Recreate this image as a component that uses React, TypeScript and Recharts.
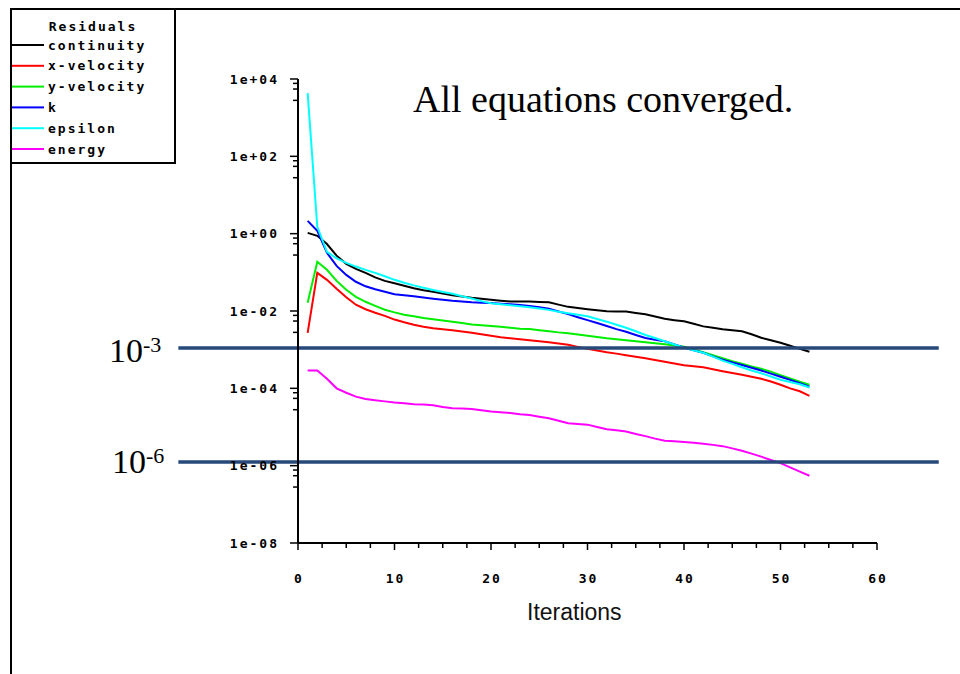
import { LineChart, Line, XAxis, YAxis, ReferenceLine } from "recharts";

const iterations = [
  1, 2, 3, 4, 5, 6, 7, 8, 9, 10, 11, 12, 13, 14, 15, 16, 17, 18, 19, 20, 21, 22, 23, 24, 25, 26,
  27, 28, 29, 30, 31, 32, 33, 34, 35, 36, 37, 38, 39, 40, 41, 42, 43, 44, 45, 46, 47, 48, 49, 50,
  51, 52, 53,
];

const continuity = [
  1.05, 0.88, 0.54, 0.27, 0.166, 0.123, 0.097, 0.074, 0.06, 0.052, 0.045, 0.0386, 0.0345, 0.0313,
  0.0283, 0.0255, 0.0236, 0.0219, 0.0206, 0.0195, 0.0185, 0.0176, 0.0176, 0.0176, 0.0172, 0.0168,
  0.0146, 0.0128, 0.0119, 0.0111, 0.0104, 0.0098, 0.0097, 0.0097, 0.0089, 0.0082, 0.0072, 0.0063,
  0.0058, 0.0054, 0.0047, 0.004, 0.0037, 0.00337, 0.0032, 0.003, 0.0025, 0.00203, 0.00175, 0.00151,
  0.00126, 0.00105, 0.00088,
];

const xVelocity = [
  0.00273, 0.097, 0.064, 0.0375, 0.0226, 0.0145, 0.0111, 0.009, 0.0075, 0.006, 0.0051, 0.0044,
  0.0039, 0.00357, 0.00335, 0.00317, 0.00295, 0.00273, 0.0025, 0.00229, 0.0021, 0.00197, 0.00185,
  0.00175, 0.00165, 0.00155, 0.00145, 0.00134, 0.00118, 0.00105, 0.00095, 0.00086, 0.00079, 0.00072,
  0.00066, 0.0006, 0.00054, 0.00049, 0.00044, 0.000395, 0.00037, 0.00035, 0.00031, 0.000277, 0.00025,
  0.000224, 0.0002, 0.000177, 0.00015, 0.000124, 0.0001, 0.000084, 0.000064,
];

const yVelocity = [
  0.0163, 0.187, 0.116, 0.06, 0.0353, 0.0233, 0.0173, 0.0136, 0.0108, 0.0092, 0.008, 0.0073, 0.0066,
  0.0061, 0.0057, 0.0053, 0.0049, 0.0045, 0.0043, 0.0041, 0.0039, 0.0037, 0.0035, 0.0034, 0.0032,
  0.003, 0.0028, 0.00265, 0.00246, 0.00229, 0.00213, 0.00197, 0.00186, 0.00175, 0.00165, 0.00155,
  0.00146, 0.00138, 0.00128, 0.00119, 0.00101, 0.00086, 0.00072, 0.0006, 0.0005, 0.00043, 0.00037,
  0.00032, 0.00027, 0.00022, 0.00018, 0.000148, 0.000124,
];

const kResidual = [
  2.14, 1.18, 0.32, 0.147, 0.086, 0.057, 0.0435, 0.0364, 0.0313, 0.027, 0.0255, 0.024, 0.0222,
  0.0207, 0.0195, 0.0184, 0.0176, 0.0168, 0.0164, 0.016, 0.0154, 0.0149, 0.0144, 0.0135, 0.0125,
  0.0114, 0.0097, 0.0083, 0.0069, 0.0058, 0.0049, 0.0041, 0.0034, 0.0029, 0.0024, 0.002, 0.0018,
  0.00165, 0.00137, 0.00114, 0.00097, 0.00083, 0.00067, 0.00055, 0.00047, 0.0004, 0.00034, 0.00029,
  0.00024, 0.0002, 0.000165, 0.000135, 0.00011,
];

const epsilon = [
  4300, 1.5, 0.34, 0.23, 0.176, 0.141, 0.116, 0.097, 0.079, 0.064, 0.054, 0.046, 0.04, 0.035, 0.031,
  0.028, 0.024, 0.021, 0.018, 0.0158, 0.0149, 0.014, 0.0132, 0.0125, 0.0116, 0.0107, 0.0096, 0.0087,
  0.008, 0.0073, 0.0062, 0.0053, 0.0044, 0.0037, 0.003, 0.0024, 0.002, 0.00165, 0.00136, 0.00112,
  0.00096, 0.00083, 0.00066, 0.00052, 0.00043, 0.00035, 0.00029, 0.000245, 0.000202, 0.000167,
  0.000146, 0.000128, 0.000105,
];

const energy = [
  2.9e-4, 2.9e-4, 1.77e-4, 1.0e-4, 7.7e-5, 6.1e-5, 5.3e-5, 4.9e-5, 4.6e-5, 4.3e-5, 4.1e-5, 3.9e-5,
  3.8e-5, 3.65e-5, 3.3e-5, 3.06e-5, 3.0e-5, 2.9e-5, 2.7e-5, 2.5e-5, 2.4e-5, 2.3e-5, 2.15e-5, 2.04e-5,
  1.85e-5, 1.69e-5, 1.45e-5, 1.25e-5, 1.2e-5, 1.15e-5, 1.0e-5, 8.8e-6, 8.2e-6, 7.6e-6, 6.6e-6,
  5.8e-6, 5.0e-6, 4.4e-6, 4.25e-6, 4.1e-6, 3.9e-6, 3.7e-6, 3.45e-6, 3.2e-6, 2.8e-6, 2.44e-6, 2.05e-6,
  1.71e-6, 1.4e-6, 1.16e-6, 9.0e-7, 7.0e-7, 5.5e-7,
];

const series = [
  { key: "continuity", name: "continuity", color: "#000000", values: continuity },
  { key: "xVelocity", name: "x-velocity", color: "#ff0000", values: xVelocity },
  { key: "yVelocity", name: "y-velocity", color: "#00ee00", values: yVelocity },
  { key: "k", name: "k", color: "#0000ff", values: kResidual },
  { key: "epsilon", name: "epsilon", color: "#00ffff", values: epsilon },
  { key: "energy", name: "energy", color: "#ff00ff", values: energy },
];

const xTicks = [
  0, 2.5, 5, 7.5, 10, 12.5, 15, 17.5, 20, 22.5, 25, 27.5, 30, 32.5, 35, 37.5, 40, 42.5, 45, 47.5,
  50, 52.5, 55, 57.5, 60,
];

const yMajorTicks = [1e4, 1e2, 1, 1e-2, 1e-4, 1e-6, 1e-8];
const yTickLabels = ["1e+04", "1e+02", "1e+00", "1e-02", "1e-04", "1e-06", "1e-08"];
const yMinorFactors = [0.77, 0.55, 0.28];

// horizontal marks drawn over the plot, with their labels
const thresholds = [
  { value: 1.1e-3, base: "10", exp: "-3" },
  { value: 1.25e-6, base: "10", exp: "-6" },
];

const rows = iterations.map((it, i) => {
  const row: any = { iter: it };
  series.forEach((s) => {
    row[s.key] = s.values[i];
  });
  return row;
});

const yTicks = [
  ...yMajorTicks,
  ...yMajorTicks.slice(0, -1).flatMap((m) => yMinorFactors.map((f) => m * f)),
].sort((a, b) => b - a);

const tickFont = {
  fontFamily: "'DejaVu Sans Mono', monospace",
  fontWeight: 700,
  fontSize: 13,
  letterSpacing: 2,
  fill: "#000",
};

const YTick = (props: any) => {
  const { x, y, payload } = props;
  const idx = yMajorTicks.indexOf(payload.value);
  const major = idx >= 0;
  return (
    <g>
      <line x1={x - (major ? 8 : 5)} x2={x} y1={y} y2={y} stroke="#000" strokeWidth={1.5} />
      {major && (
        <text x={x - 19} y={y} dy={4.5} textAnchor="end" {...tickFont}>
          {yTickLabels[idx]}
        </text>
      )}
    </g>
  );
};

const XTick = (props: any) => {
  const { x, y, payload } = props;
  const major = payload.value % 10 === 0;
  return (
    <g>
      <line x1={x} x2={x} y1={y} y2={y + (major ? 7 : 5)} stroke="#000" strokeWidth={1.5} />
      {major && (
        <text x={x + 1} y={y + 40} textAnchor="middle" {...tickFont}>
          {payload.value}
        </text>
      )}
    </g>
  );
};

export default function App() {
  return (
    <div style={{ position: "relative", width: 960, height: 674, background: "#fff", overflow: "hidden" }}>
      <style>{`body{margin:0}`}</style>

      {/* outer frame */}
      <div
        style={{
          position: "absolute",
          left: 10,
          top: 8,
          width: 960,
          height: 680,
          borderTop: "2px solid #000",
          borderLeft: "2px solid #000",
        }}
      />

      <div style={{ position: "absolute", left: 0, top: 0 }}>
        <LineChart width={960} height={674} data={rows} margin={{ top: 79, right: 83, bottom: 41, left: 0 }}>
          <XAxis
            dataKey="iter"
            type="number"
            domain={[0, 60]}
            ticks={xTicks}
            interval={0}
            height={90}
            tickSize={0}
            tickMargin={0}
            tick={<XTick />}
            tickLine={false}
            axisLine={{ stroke: "#000", strokeWidth: 2 }}
          />
          <YAxis
            type="number"
            scale="log"
            domain={[1e-8, 1e4]}
            allowDataOverflow
            ticks={yTicks}
            interval={0}
            width={298}
            tickSize={0}
            tickMargin={0}
            tick={<YTick />}
            tickLine={false}
            axisLine={{ stroke: "#000", strokeWidth: 2 }}
          />
          {series.map((s) => (
            <Line
              key={s.key}
              dataKey={s.key}
              name={s.name}
              type="linear"
              stroke={s.color}
              strokeWidth={2}
              dot={false}
              isAnimationActive={false}
            />
          ))}
          {thresholds.map((t) => (
            <ReferenceLine
              key={t.exp}
              segment={[
                { x: -12.4, y: t.value },
                { x: 66.4, y: t.value },
              ]}
              ifOverflow="visible"
              stroke="#26497a"
              strokeWidth={3.5}
            />
          ))}
        </LineChart>
      </div>

      <svg width={960} height={674} style={{ position: "absolute", left: 0, top: 0, pointerEvents: "none" }}>
        <text x={413} y={112} fontFamily="'Liberation Serif', 'Times New Roman', serif" fontSize={38} fill="#000">
          All equations converged.
        </text>
        <text x={109} y={362} fontFamily="'Liberation Serif', 'Times New Roman', serif" fontSize={34} fill="#000">
          {thresholds[0].base}
          <tspan dy={-10} fontSize={22}>
            {thresholds[0].exp}
          </tspan>
        </text>
        <text x={112} y={473} fontFamily="'Liberation Serif', 'Times New Roman', serif" fontSize={34} fill="#000">
          {thresholds[1].base}
          <tspan dy={-10} fontSize={22}>
            {thresholds[1].exp}
          </tspan>
        </text>
        <text x={527} y={620} fontFamily="'Liberation Sans', Arial, sans-serif" fontSize={23} fill="#111">
          Iterations
        </text>
      </svg>

      {/* legend box */}
      <div
        style={{
          position: "absolute",
          left: 10,
          top: 8,
          width: 162,
          height: 152,
          border: "2px solid #000",
          background: "#fff",
        }}
      >
        <svg width={162} height={152}>
          <text x={81} y={21} textAnchor="middle" {...tickFont}>
            Residuals
          </text>
          {series.map((s, i) => (
            <g key={s.key}>
              <line x1={0} x2={32} y1={35 + i * 20.8} y2={35 + i * 20.8} stroke={s.color} strokeWidth={2} />
              <text x={36} y={39.5 + i * 20.8} {...tickFont}>
                {s.name}
              </text>
            </g>
          ))}
        </svg>
      </div>
    </div>
  );
}
